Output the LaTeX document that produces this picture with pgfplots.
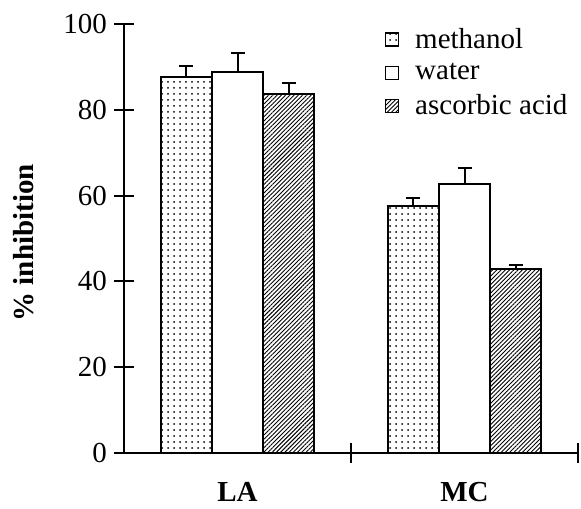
\documentclass[border=0pt]{standalone}
\usepackage{fontspec}
\setmainfont{Liberation Serif}
\usepackage{pgfplots}
\pgfplotsset{compat=1.18}
\usetikzlibrary{patterns.meta}

\begin{document}
\begin{tikzpicture}
\path[use as bounding box] (-62pt,-27.5pt) rectangle (228.5pt,226.5pt);
\begin{axis}[
  scale only axis,
  width=227pt, height=214.5pt,
  xmin=0, xmax=2, ymin=0, ymax=100,
  ybar=0pt, bar width=0.225,
  axis x line=bottom, axis y line=left,
  axis line style={-, line width=1pt},
  tick align=center,
  major tick length=10pt,
  tick style={line width=1pt, black},
  ytick={0,20,...,100},
  xtick={1,2}, xticklabels={},
  extra x ticks={0.5,1.5},
  extra x tick labels={\textbf{LA},\textbf{MC}},
  extra x tick style={major tick length=0pt, xticklabel style={yshift=-11pt}},
  font=\fontsize{14.5}{16}\selectfont,
  /pgf/number format/assume math mode=true,
  ylabel={\textbf{\% inhibition}},
  ylabel style={at={(axis description cs:-0.22,0.49)}, anchor=center},
  legend style={draw=none, fill=none, at={(axis description cs:0.56,1.01)},
    anchor=north west, row sep=2pt, column sep=6pt, font=\fontsize{14.5}{16}\selectfont},
  legend cell align=left,
  legend image code/.code={\draw[#1, line width=0.8pt] (0pt,-3.25pt) rectangle (6.5pt,3.25pt);},
  error bars/y dir=plus, error bars/y explicit,
  error bars/error bar style={line width=1pt},
  error bars/error mark options={rotate=90, mark size=3.5pt, line width=1pt},
  clip=false,
]
\addplot[draw=black, line width=1pt,
  pattern={Dots[distance=3pt, radius=0.5pt]}]
  coordinates {(0.5,87.6) +- (0,2.6) (1.5,57.6) +- (0,1.9)};
\addplot[draw=black, line width=1pt, fill=white]
  coordinates {(0.5,88.8) +- (0,4.4) (1.5,62.6) +- (0,3.8)};
\addplot[draw=black, line width=1pt,
  pattern={Lines[angle=45, distance=1.5pt, line width=0.45pt]}]
  coordinates {(0.5,83.7) +- (0,2.5) (1.5,42.8) +- (0,1.0)};
\legend{methanol, water, ascorbic acid}
\end{axis}
\end{tikzpicture}
\end{document}
